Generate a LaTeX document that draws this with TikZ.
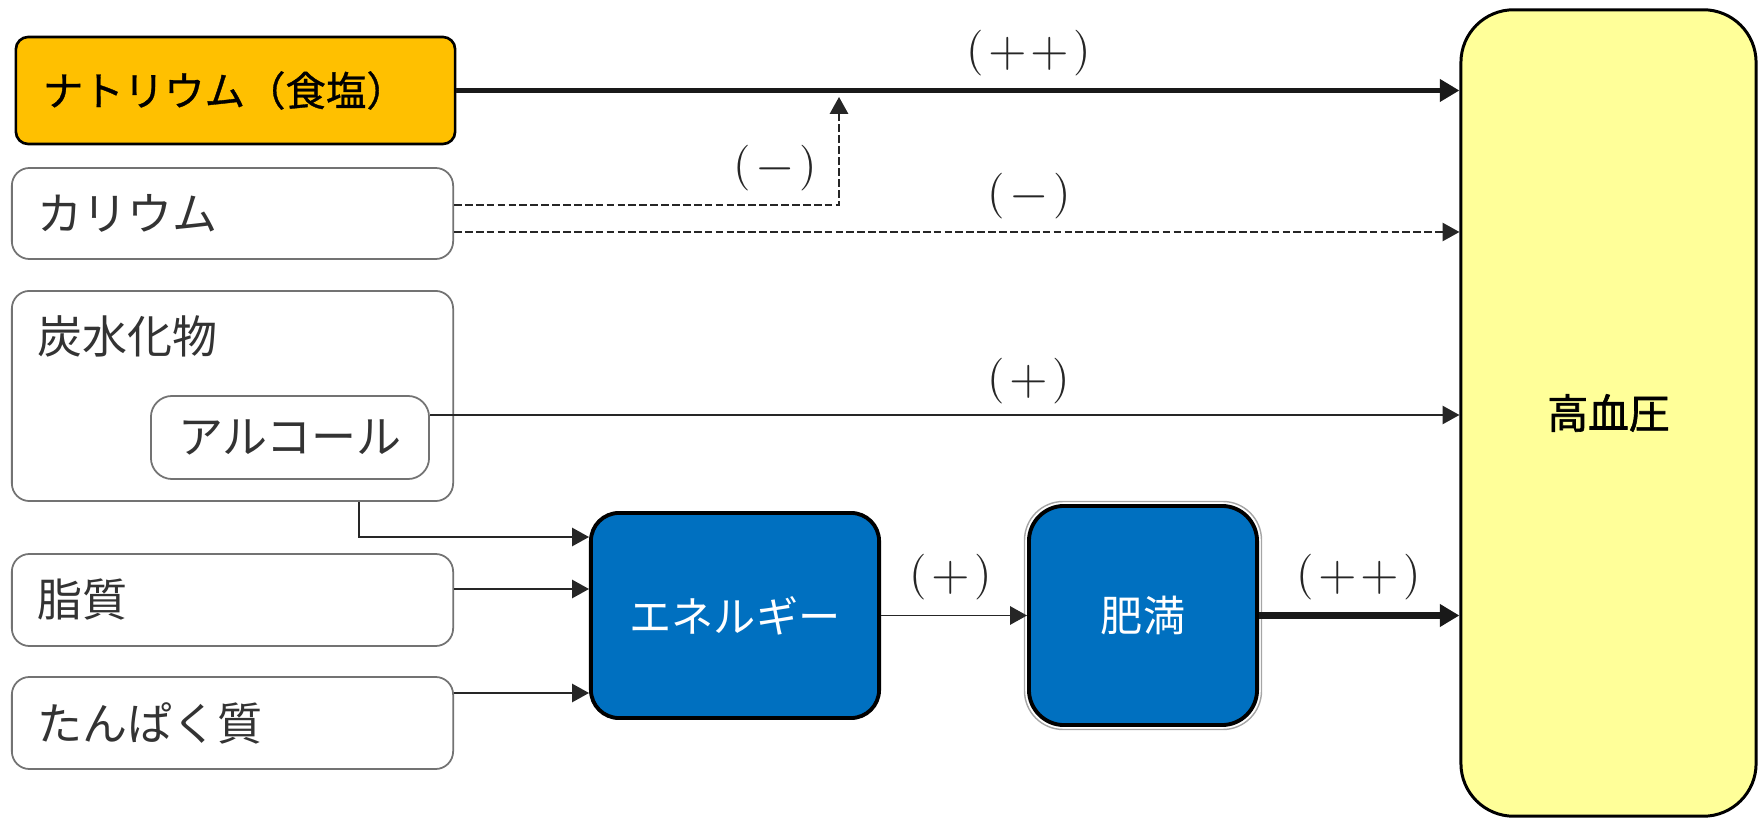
\documentclass[tikz,border=0pt]{standalone}
\usepackage{fontspec}
\newfontfamily\jp{Noto Sans CJK JP}
\newfontfamily\jpmed{Noto Sans CJK JP}[FakeBold=0.8]
\newfontfamily\jpbold{Noto Sans CJK JP}[FakeBold=1.6]
\usetikzlibrary{arrows.meta,calc}
\definecolor{natrium}{HTML}{FFC000}
\definecolor{hyper}{HTML}{FFFF99}
\definecolor{blueb}{HTML}{0070C0}
\definecolor{ink}{HTML}{333333}
% enlarged sign inside an effect label
\newcommand\bigsym[1]{\raisebox{-0.5pt}{\fontsize{15pt}{15pt}\selectfont$#1$}}
\newcommand\effect[1]{{\fontsize{13pt}{15pt}\selectfont(\kern1.3pt#1\kern1.3pt)}}
\tikzset{
  >={Triangle[length=4.8pt,width=5.2pt]},
  bigtip/.tip={Triangle[length=5.6pt,width=6.2pt]},
  gbox/.style={draw=black!55, line width=0.5pt, rounded corners=5pt, fill=white,
    text=ink, font=\jp\fontsize{12.8pt}{14pt}\selectfont, align=left,
    inner xsep=0.26cm, inner ysep=0pt},
  bluebox/.style={draw=black, line width=1.1pt, fill=blueb, text=white,
    font=\jp\fontsize{12pt}{14pt}\selectfont, inner sep=0pt},
  thinarrow/.style={line width=0.5pt, draw=black!85, ->},
  heavyarrow/.style={line width=1.9pt, draw=black!90, -bigtip},
  dasharrow/.style={line width=0.5pt, draw=black!85, dash pattern=on 2.2pt off 0.9pt, ->},
  effectlbl/.style={text=black!85, inner sep=0pt},
}
\begin{document}
\begin{tikzpicture}[x=0.01cm, y=-0.01cm]
\useasboundingbox (0,0) rectangle (1758,819);

% target condition
\node[draw=black, line width=0.85pt, fill=hyper, rounded corners=15pt,
      minimum width=2.95cm, minimum height=8.06cm, inner sep=0pt,
      font=\jpbold\fontsize{11.6pt}{14pt}\selectfont] (hyp) at (1608.5,413) {高血圧};

% nutrient boxes
\node[draw=black, line width=0.75pt, fill=natrium, rounded corners=3.5pt,
      minimum height=1.07cm, text width=3.85cm, inner xsep=0.27cm, inner ysep=0pt,
      align=left, font=\jpmed\fontsize{11.5pt}{14pt}\selectfont] (na) at (235.5,90.5) {ナトリウム（食塩）};
\node[gbox, minimum height=0.91cm, text width=3.89cm] (k) at (232.5,213.5) {カリウム};
\node[gbox, minimum width=4.41cm, minimum height=2.10cm, inner xsep=0pt] (carb) at (232.5,396) {};
\node[anchor=west, text=ink, inner sep=0pt, font=\jp\fontsize{12.8pt}{14pt}\selectfont] (carbtxt) at (37,336) {炭水化物};
\node[gbox, rounded corners=6pt, minimum width=2.78cm, minimum height=0.83cm, align=center, inner xsep=0pt] (alc) at (290,437.5) {アルコール};
\node[gbox, minimum height=0.92cm, text width=3.89cm] (lip) at (232.5,600) {脂質};
\node[gbox, minimum height=0.92cm, text width=3.89cm] (pro) at (232.5,723) {たんぱく質};

% intermediate states
\node[bluebox, rounded corners=8pt, minimum width=2.88cm, minimum height=2.05cm] (en) at (735,615.5) {エネルギー};
\node[bluebox, rounded corners=10pt, minimum width=2.28cm, minimum height=2.19cm] (ob) at (1143,615.5) {肥満};
\draw[black!35, line width=0.4pt, rounded corners=11pt]
  ($(ob.north west)+(-2.5,-2.5)$) rectangle ($(ob.south east)+(2.5,2.5)$);

% connector end points
\coordinate (kj) at (839,97);
\coordinate (k1) at ($(k.east)+(0,-8.5)$);
\coordinate (k2) at ($(k.east)+(0,18.5)$);
\coordinate (a1) at ($(alc.east)+(0,-22.5)$);
\coordinate (c1) at ($(carb.south west)+(348,0)$);
\coordinate (e1) at ($(en.west)+(0,-78.5)$);
\coordinate (l1) at ($(lip.east)+(0,-11)$);
\coordinate (p1) at ($(pro.east)+(0,-30)$);

% connectors
\draw[heavyarrow, line width=1.45pt] (na.east) -- (na.east -| hyp.west);
\draw[dasharrow] (k1) -| (kj);
\draw[dasharrow] (k2) -- (k2 -| hyp.west);
\draw[thinarrow] (a1) -- (a1 -| hyp.west);
\draw[thinarrow] (c1) |- (e1);
\draw[thinarrow] (l1) -- (l1 -| en.west);
\draw[thinarrow] (p1) -- (p1 -| en.west);
\draw[thinarrow] (en.east) -- (ob.west);
\draw[heavyarrow] (ob.east) -- (ob.east -| hyp.west);

% effect labels
\node[effectlbl] (e-na) at (1029,53) {\effect{\bigsym{+}\kern1pt\bigsym{+}}};
\node[effectlbl] (e-k1) at (775,168) {\effect{\bigsym{-}}};
\node[effectlbl] (e-k2) at (1029,196) {\effect{\bigsym{-}}};
\node[effectlbl] (e-alc) at (1029,381) {\effect{\bigsym{+}}};
\node[effectlbl] (e-en) at (951,577) {\effect{\bigsym{+}}};
\node[effectlbl] (e-ob) at (1359,577) {\effect{\bigsym{+}\kern1pt\bigsym{+}}};
\end{tikzpicture}
\end{document}
